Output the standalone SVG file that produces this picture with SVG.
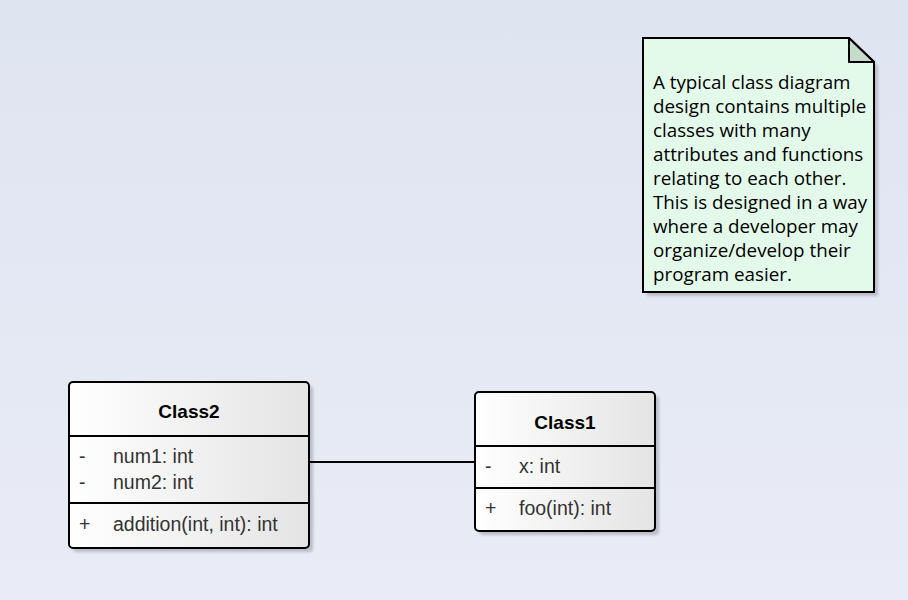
<svg xmlns="http://www.w3.org/2000/svg" width="908" height="600" viewBox="0 0 908 600">
<defs>
<linearGradient id="bg" x1="0" y1="0" x2="0" y2="1">
<stop offset="0" stop-color="#dfe4f1"/>
<stop offset="1" stop-color="#e9ecf6"/>
</linearGradient>
<linearGradient id="cls" x1="0" y1="0" x2="1" y2="0">
<stop offset="0" stop-color="#ffffff"/>
<stop offset="1" stop-color="#e4e4e4"/>
</linearGradient>
<filter id="sh" x="-10%" y="-10%" width="130%" height="130%">
<feGaussianBlur stdDeviation="1.5"/>
</filter>
</defs>
<style>
.box{fill:url(#cls);stroke:#000;stroke-width:2}
.shadow{fill:#b8bcc8;filter:url(#sh)}
.sep{stroke:#000;stroke-width:2}
.title{font-family:"Liberation Sans",Arial,sans-serif;font-size:19px;font-weight:bold;fill:#000;text-anchor:middle}
.mem{font-family:"Liberation Sans",Arial,sans-serif;font-size:19.5px;fill:#333}
.note{font-family:"Open Sans","Noto Sans",sans-serif;font-size:18.8px;fill:#000}
</style>
<rect width="908" height="600" fill="url(#bg)"/>
<g id="note">
<path d="M647,296 H878 V66 L853,42 H647 Z" class="shadow"/>
<path d="M643,38 H849 L874,62 V292 H643 Z" fill="#e3f9e9" stroke="#000" stroke-width="2"/>
<path d="M849,38 V62 H874 Z" fill="#c4dcc9" stroke="#000" stroke-width="2" stroke-linejoin="round"/>
<text class="note" x="653">
<tspan x="653" y="89">A typical class diagram</tspan>
<tspan x="653" y="113">design contains multiple</tspan>
<tspan x="653" y="137">classes with many</tspan>
<tspan x="653" y="161">attributes and functions</tspan>
<tspan x="653" y="185">relating to each other.</tspan>
<tspan x="653" y="209">This is designed in a way</tspan>
<tspan x="653" y="233">where a developer may</tspan>
<tspan x="653" y="257">organize/develop their</tspan>
<tspan x="653" y="281">program easier.</tspan>
</text>
</g>
<g id="class2">
<rect x="73" y="386" width="240" height="166" rx="4" class="shadow"/>
<rect x="69" y="382" width="240" height="166" rx="4" class="box"/>
<line x1="69" y1="436" x2="309" y2="436" class="sep"/>
<line x1="69" y1="503" x2="309" y2="503" class="sep"/>
<text class="title" x="189" y="418">Class2</text>
<text class="mem" x="79" y="463">-</text>
<text class="mem" x="113" y="463">num1: int</text>
<text class="mem" x="79" y="489">-</text>
<text class="mem" x="113" y="489">num2: int</text>
<text class="mem" x="79" y="531">+</text>
<text class="mem" x="113" y="531">addition(int, int): int</text>
</g>
<g id="class1">
<rect x="479" y="396" width="180" height="139" rx="4" class="shadow"/>
<rect x="475" y="392" width="180" height="139" rx="4" class="box"/>
<line x1="475" y1="446" x2="655" y2="446" class="sep"/>
<line x1="475" y1="488" x2="655" y2="488" class="sep"/>
<text class="title" x="565" y="429">Class1</text>
<text class="mem" x="485" y="473">-</text>
<text class="mem" x="519" y="473">x: int</text>
<text class="mem" x="485" y="515">+</text>
<text class="mem" x="519" y="515">foo(int): int</text>
</g>
<g id="connectors">
<line x1="310" y1="462" x2="474" y2="462" stroke="#000" stroke-width="2"/>
</g>
</svg>
